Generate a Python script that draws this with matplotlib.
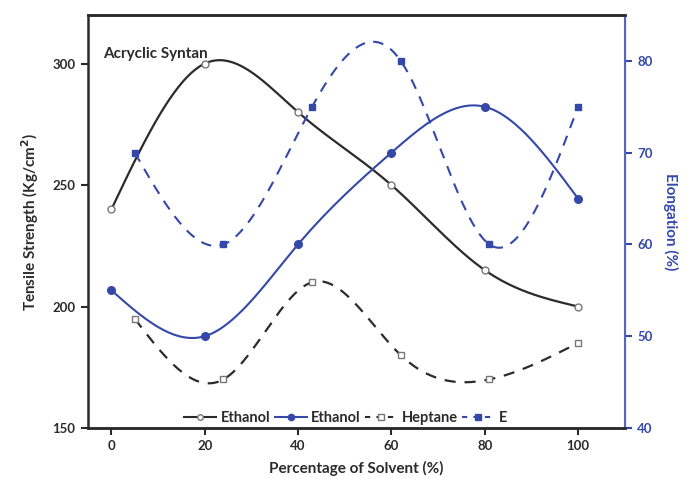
import numpy as np
import matplotlib
matplotlib.use("Agg")
import matplotlib.pyplot as plt
from matplotlib.lines import Line2D

# data
x_eth = [0, 20, 40, 60, 80, 100]
ts_eth = [240, 300, 280, 250, 215, 200]
el_eth = [55, 50, 60, 70, 75, 65]

x_hep = [5, 24, 43, 62, 81, 100]
ts_hep = [195, 170, 210, 180, 170, 185]
el_hep = [70, 60, 75, 80, 60, 75]

DARK = "#2b2b2b"
BLUE = "#3448aa"
SPINE_BLUE = "#5565c0"

plt.rcParams["font.family"] = ["Lato", "DejaVu Sans"]
plt.rcParams["font.weight"] = "bold"
plt.rcParams["axes.labelweight"] = "bold"


def natural_spline(x, y, n=300):
    """Natural cubic spline through the points, for the smooth connecting line."""
    x = np.asarray(x, float)
    y = np.asarray(y, float)
    k = len(x)
    h = np.diff(x)
    A = np.zeros((k, k))
    b = np.zeros(k)
    A[0, 0] = A[-1, -1] = 1.0
    for i in range(1, k - 1):
        A[i, i - 1] = h[i - 1]
        A[i, i] = 2 * (h[i - 1] + h[i])
        A[i, i + 1] = h[i]
        b[i] = 6 * ((y[i + 1] - y[i]) / h[i] - (y[i] - y[i - 1]) / h[i - 1])
    M = np.linalg.solve(A, b)
    xs = np.linspace(x[0], x[-1], n)
    idx = np.clip(np.searchsorted(x, xs) - 1, 0, k - 2)
    x0, x1 = x[idx], x[idx + 1]
    hh = x1 - x0
    t0, t1 = x1 - xs, xs - x0
    ys = (M[idx] * t0 ** 3 + M[idx + 1] * t1 ** 3) / (6 * hh) \
        + (y[idx] / hh - M[idx] * hh / 6) * t0 \
        + (y[idx + 1] / hh - M[idx + 1] * hh / 6) * t1
    return xs, ys


fig = plt.figure(figsize=(6.88, 4.79), dpi=100)
ax = fig.add_axes([0.128, 0.1065, 0.78, 0.8622])
ax2 = ax.twinx()

dash = (0, (5, 4))

# tensile strength (left axis)
xs, ys = natural_spline(x_eth, ts_eth)
ax.plot(xs, ys, color=DARK, lw=1.6)
ax.plot(x_eth, ts_eth, "o", ms=5, mfc="white", mec="#777777", mew=1.0)
xs, ys = natural_spline(x_hep, ts_hep)
ax.plot(xs, ys, color=DARK, lw=1.6, ls=dash)
ax.plot(x_hep, ts_hep, "s", ms=4.5, mfc="white", mec="#777777", mew=1.0)

# elongation (right axis)
xs, ys = natural_spline(x_eth, el_eth)
ax2.plot(xs, ys, color=BLUE, lw=1.5)
ax2.plot(x_eth, el_eth, "o", ms=5.5, color=BLUE)
xs, ys = natural_spline(x_hep, el_hep)
ax2.plot(xs, ys, color=BLUE, lw=1.5, ls=dash)
ax2.plot(x_hep, el_hep, "s", ms=4.5, color=BLUE)

ax.set_xlim(-5, 110)
ax.set_ylim(150, 320)
ax2.set_ylim(40, 85)
ax.set_xticks([0, 20, 40, 60, 80, 100])
ax.set_yticks([150, 200, 250, 300])
ax2.set_yticks([40, 50, 60, 70, 80])

ax.tick_params(axis="both", direction="out", length=5, width=1.5,
               colors=DARK, labelsize=9.5, pad=4)
ax2.tick_params(axis="y", direction="out", length=5, width=1.5,
                colors=BLUE, labelsize=9.5, pad=4)
for lbl in ax.get_xticklabels() + ax.get_yticklabels() + ax2.get_yticklabels():
    lbl.set_fontweight("bold")
for name in ("left", "bottom", "top"):
    ax.spines[name].set_color(DARK)
    ax.spines[name].set_linewidth(1.8)
ax2.spines["right"].set_color(SPINE_BLUE)
ax2.spines["right"].set_linewidth(1.5)
ax2.spines["left"].set_visible(False)
ax2.spines["top"].set_color(DARK)
ax2.spines["top"].set_linewidth(1.8)
ax2.spines["bottom"].set_color(DARK)
ax2.spines["bottom"].set_linewidth(1.8)

ax.set_xlabel("Percentage of Solvent (%)", fontsize=11, color=DARK, labelpad=6)
ax.set_ylabel("Tensile Strength (Kg/cm$^2$)", fontsize=11, color=DARK, labelpad=8)
ax2.set_ylabel("Elongation (%)", fontsize=11, color=BLUE, rotation=270, labelpad=18)

ax.text(0.028, 0.905, "Acryclic Syntan", transform=ax.transAxes,
        fontsize=11, color=DARK, ha="left", va="center", fontweight="bold")

handles = [
    Line2D([], [], color=DARK, lw=1.5, marker="o", ms=4, mfc="white", mec="#777777"),
    Line2D([], [], color=BLUE, lw=1.5, marker="o", ms=4.5, mfc=BLUE, mec=BLUE),
    Line2D([], [], color=DARK, lw=1.5, ls=(0, (2.5, 3)), marker="s", ms=4, mfc="white", mec="#777777"),
    Line2D([], [], color=BLUE, lw=1.5, ls=(0, (2.5, 3)), marker="s", ms=4, mfc=BLUE, mec=BLUE),
]
labels = ["Ethanol", "Ethanol", "Heptane", "E"]
ax2.legend(handles, labels, loc="lower center", bbox_to_anchor=(0.48, -0.015),
           ncol=4, frameon=False, handlelength=2.2,
           handletextpad=0.3, columnspacing=0.3, borderaxespad=0.2,
           labelcolor=DARK, prop={"size": 10.5, "weight": "bold"})

fig.savefig("out.png", dpi=100, facecolor="white")
plt.close(fig)
